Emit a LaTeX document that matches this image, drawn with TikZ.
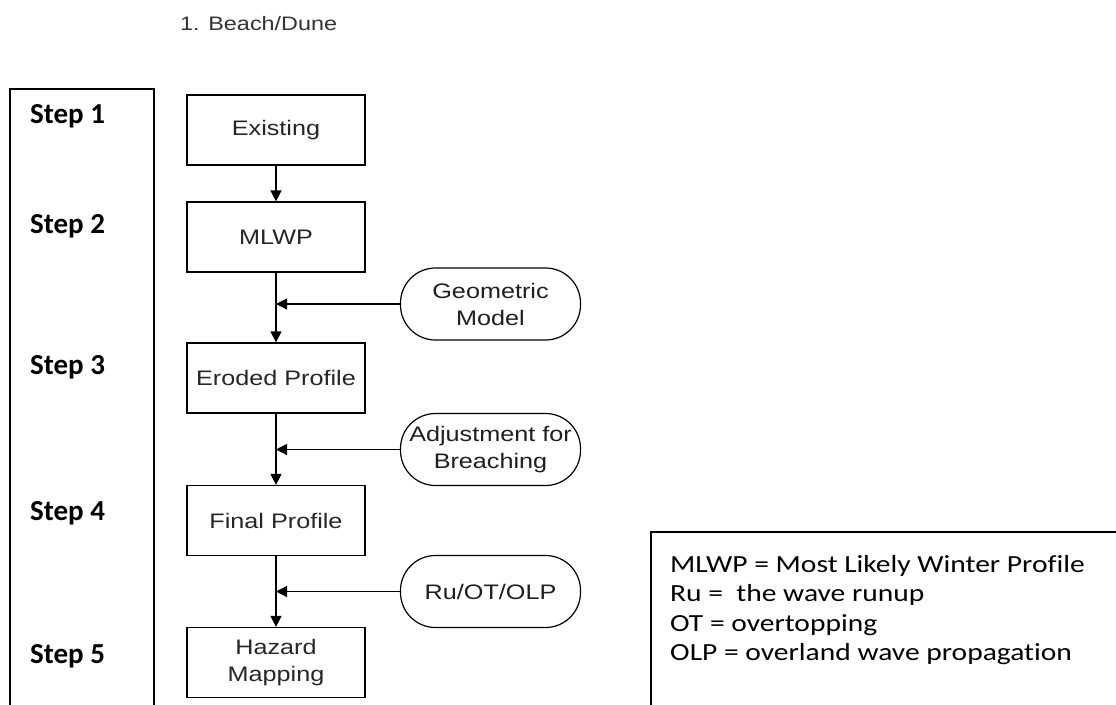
\documentclass[tikz,border=0pt]{standalone}
\usepackage{fontspec}
\usetikzlibrary{arrows.meta,positioning}
\newfontfamily\flowfont[FakeStretch=1.2]{Liberation Sans}
\newfontfamily\calfont{Carlito}
\newfontfamily\legfont[FakeStretch=1.2,Ligatures=NoCommon]{Carlito}
\begin{document}
\begin{tikzpicture}[x=1pt,y=-1pt,
  flowbox/.style={draw=black,line width=1.2pt,minimum width=178pt,minimum height=70pt,
    align=center,inner sep=0pt,text=black!85,font=\flowfont\fontsize{21}{27}\selectfont},
  pill/.style={draw=black,line width=1.2pt,minimum width=180pt,minimum height=72pt,
    rounded corners=35pt,align=center,inner sep=0pt,text=black!88,
    font=\flowfont\fontsize{21}{27}\selectfont},
  steplabel/.style={anchor=west,inner sep=0pt,font=\calfont\bfseries\fontsize{29}{32}\selectfont},
  conn/.style={line width=1.2pt,-{Triangle[width=11pt,length=11pt]}},
  feed/.style={line width=1.2pt,-{Triangle[width=11pt,length=11pt]}}
]
\useasboundingbox (0,0) rectangle (1116,704);
\clip (0,0) rectangle (1116,704);
\fill[white] (0,0) rectangle (1116,704);

% title
\node[anchor=west,inner sep=0pt,text=black!80,font=\flowfont\fontsize{19.5}{24}\selectfont] (title) at (180,24) {1. Beach/Dune};

% step column
\draw[line width=1.2pt] (10,712) -- (10,89) -- (154,89) -- (154,712);
\node[steplabel] (s1) at (30,116) {Step 1};
\node[steplabel] (s2) at (30,226) {Step 2};
\node[steplabel] (s3) at (30,367) {Step 3};
\node[steplabel] (s4) at (30,513) {Step 4};
\node[steplabel] (s5) at (30,656) {Step 5};

% flow boxes
\node[flowbox] (exist) at (276,130) {Existing};
\node[flowbox] (mlwp) at (276,237) {MLWP};
\node[flowbox] (eroded) at (276,378) {Eroded Profile};
\node[flowbox] (final) at (276,520.5) {Final Profile};
\node[flowbox] (hazard) at (276,662.5) {Hazard\\Mapping};

% side inputs
\node[pill] (geo) at (490.5,304) {Geometric\\Model};
\node[pill] (adj) at (490.5,449.5) {Adjustment for\\Breaching};
\node[pill] (ru) at (490.5,591.5) {Ru/OT/OLP};

% junction points
\coordinate (j1) at (mlwp.south |- geo.west);
\coordinate (j2) at (eroded.south |- adj.west);
\coordinate (j3) at (final.south |- ru.west);

% connectors
\draw[conn] (exist) -- (mlwp);
\draw[conn] (mlwp) -- (eroded);
\draw[conn] (eroded) -- (final);
\draw[conn] (final) -- (hazard);
\draw[feed] (geo.west) -- (j1);
\draw[feed] (adj.west) -- (j2);
\draw[feed] (ru.west) -- (j3);

% legend
\draw[line width=1.2pt] (651,712) -- (651,532) -- (1120,532);
\node[anchor=north west,inner sep=0pt,align=left,font=\legfont\fontsize{24.6}{29.5}\selectfont] (legend) at (670,555)
  {MLWP = Most Likely Winter Profile\\
   Ru =\ \ the wave runup\\
   OT = overtopping\\
   OLP = overland wave propagation};
\end{tikzpicture}
\end{document}
